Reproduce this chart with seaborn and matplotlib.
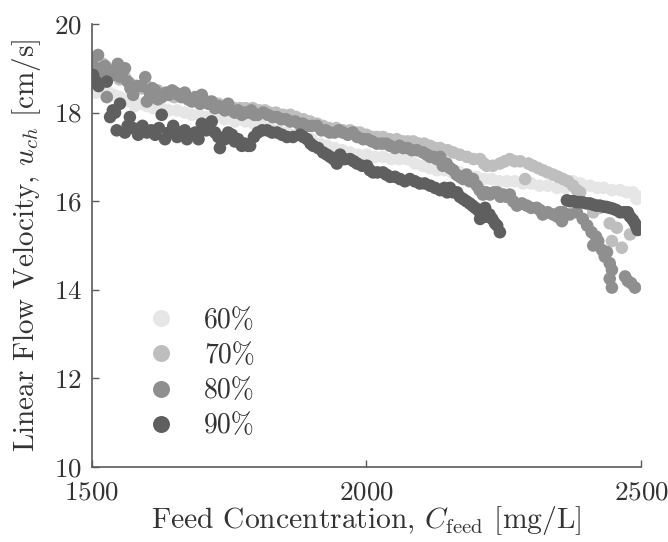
import pandas as pd
import matplotlib
matplotlib.use('Agg')
import matplotlib.pyplot as plt
import seaborn as sns

# data (feed concentration [mg/L], flow velocity [cm/s])
x60 = [1503, 1507, 1512, 1520, 1530, 1540, 1550, 1560, 1570, 1578, 1590, 1600, 1612, 1627, 1640,
       1655, 1669, 1682, 1695, 1710, 1725, 1742, 1760, 1779, 1795, 1810, 1825, 1840, 1855, 1870,
       1885, 1900, 1915, 1928, 1942, 1956, 1970, 1985, 2001, 2015, 2030, 2045, 2060, 2074, 2088,
       2103, 2115, 2128, 2142, 2156, 2170, 2185, 2200, 2214, 2228, 2242, 2256, 2270, 2285, 2300,
       2315, 2330, 2347, 2362, 2376, 2390, 2407, 2420, 2432, 2447, 2462, 2474, 2485, 2492, 2497]
y60 = [18.55, 18.45, 18.5, 18.6, 18.45, 18.4, 18.35, 18.3, 18.25, 18.15, 18.2, 18.15, 18.1, 18.1, 18.05,
       18.05, 18.0, 17.95, 17.95, 17.9, 17.9, 17.85, 17.8, 17.8, 17.75, 17.7, 17.65, 17.6, 17.55, 17.5,
       17.45, 17.4, 17.3, 17.25, 17.2, 17.15, 17.1, 17.05, 17.05, 17.0, 17.0, 16.95, 16.95, 16.95, 16.85,
       16.8, 16.75, 16.7, 16.7, 16.65, 16.65, 16.6, 16.55, 16.5, 16.5, 16.45, 16.45, 16.45, 16.4, 16.4,
       16.35, 16.35, 16.3, 16.3, 16.45, 16.4, 16.35, 16.3, 16.3, 16.25, 16.25, 16.2, 16.2, 16.05, 16.1]

x70 = [1502, 1507, 1513, 1520, 1530, 1540, 1550, 1560, 1570, 1580, 1590, 1600, 1610, 1620, 1630,
       1640, 1650, 1660, 1670, 1680, 1690, 1700, 1710, 1720, 1730, 1740, 1750, 1760, 1770, 1780,
       1793, 1805, 1815, 1824, 1835, 1848, 1861, 1872, 1885, 1897, 1910, 1921, 1932, 1945, 1957,
       1970, 1980, 1988, 2000, 2010, 2019, 2030, 2042, 2055, 2066, 2075, 2085, 2095, 2105, 2116,
       2125, 2134, 2139, 2148, 2158, 2170, 2183, 2195, 2207, 2214, 2219, 2230, 2243, 2252, 2261,
       2270, 2280, 2289, 2295, 2303, 2312, 2321, 2330, 2340, 2349, 2358, 2367, 2376, 2383, 2389,
       2413, 2425, 2443, 2447, 2456, 2465, 2480]
y70 = [19.2, 19.05, 18.95, 19.1, 18.85, 18.9, 18.75, 18.8, 18.65, 18.6, 18.55, 18.6, 18.45, 18.5, 18.4,
       18.45, 18.35, 18.4, 18.35, 18.3, 18.3, 18.25, 18.25, 18.2, 18.2, 18.15, 18.15, 18.1, 18.1, 18.1,
       18.1, 18.05, 18.05, 18.0, 18.0, 17.95, 17.95, 17.9, 17.85, 17.8, 17.75, 17.7, 17.65, 17.65, 17.6,
       17.6, 17.55, 17.55, 17.5, 17.45, 17.45, 17.45, 17.4, 17.4, 17.35, 17.35, 17.35, 17.3, 17.3, 17.25,
       17.2, 17.2, 17.15, 17.15, 17.1, 17.05, 17.0, 16.95, 16.95, 16.85, 16.8, 16.8, 16.85, 16.9, 16.95,
       16.9, 16.9, 16.5, 16.85, 16.8, 16.75, 16.7, 16.65, 16.6, 16.55, 16.5, 16.45, 16.35, 16.25, 16.2,
       15.75, 15.85, 15.5, 15.1, 15.4, 14.95, 15.25]

x80 = [1500, 1505, 1511, 1516, 1520, 1524, 1527, 1532, 1538, 1543, 1547, 1552, 1555, 1560, 1565,
       1570, 1575, 1582, 1590, 1597, 1600, 1605, 1610, 1615, 1620, 1627, 1635, 1640, 1646, 1652,
       1657, 1663, 1669, 1675, 1682, 1688, 1697, 1700, 1706, 1712, 1718, 1724, 1730, 1737, 1742,
       1748, 1755, 1760, 1766, 1773, 1778, 1784, 1790, 1796, 1802, 1812, 1820, 1829, 1837, 1845,
       1853, 1861, 1870, 1877, 1884, 1892, 1900, 1910, 1918, 1926, 1933, 1942, 1950, 1957, 1966,
       1975, 1983, 1994, 2002, 2010, 2019, 2028, 2036, 2043, 2052, 2060, 2067, 2075, 2083, 2092,
       2103, 2110, 2116, 2122, 2128, 2134, 2139, 2146, 2152, 2158, 2164, 2170, 2176, 2182, 2188,
       2194, 2201, 2206, 2212, 2218, 2225, 2232, 2238, 2244, 2249, 2255, 2261, 2267, 2274, 2283,
       2292, 2300, 2310, 2316, 2321, 2330, 2340, 2348, 2352, 2356, 2358, 2370, 2383, 2394, 2402,
       2410, 2413, 2418, 2422, 2429, 2434, 2438, 2443, 2447, 2443, 2447, 2471, 2476, 2482, 2489]
y80 = [19.1, 18.95, 19.3, 19.0, 18.9, 19.05, 18.35, 18.95, 18.85, 18.95, 19.1, 18.8, 18.9, 19.0, 18.7,
       18.55, 18.4, 18.6, 18.6, 18.8, 18.25, 18.45, 18.55, 18.5, 18.3, 18.35, 18.45, 18.4, 18.5, 18.45,
       18.4, 18.35, 18.45, 18.3, 18.25, 18.35, 18.2, 18.4, 18.25, 18.2, 18.25, 18.1, 18.15, 18.1, 18.05,
       18.2, 18.05, 18.0, 18.05, 17.95, 18.0, 18.0, 18.05, 17.95, 17.95, 18.0, 17.95, 17.9, 17.9, 17.85,
       17.85, 17.8, 17.8, 17.75, 17.75, 17.7, 17.7, 17.7, 17.6, 17.6, 17.55, 17.55, 17.6, 17.55, 17.5,
       17.55, 17.45, 17.4, 17.4, 17.35, 17.3, 17.3, 17.3, 17.25, 17.2, 17.25, 17.2, 17.2, 17.15, 17.15,
       17.1, 17.05, 17.0, 17.0, 16.95, 17.0, 16.8, 16.85, 16.75, 16.7, 16.6, 16.55, 16.5, 16.6, 16.45,
       16.5, 16.35, 16.25, 16.15, 16.2, 16.15, 16.2, 16.2, 16.1, 16.15, 16.1, 16.15, 16.0, 15.9, 15.95,
       15.9, 15.85, 15.85, 15.8, 15.7, 15.75, 15.7, 15.65, 15.75, 15.55, 15.75, 15.7, 15.75, 15.6, 15.45,
       15.3, 15.0, 15.2, 15.1, 14.9, 14.75, 14.85, 14.6, 14.45, 14.25, 14.05, 14.3, 14.2, 14.15, 14.05]

x90 = [1502, 1507, 1512, 1527, 1533, 1538, 1542, 1545, 1551, 1560, 1565, 1569, 1575, 1582, 1584,
       1592, 1600, 1608, 1615, 1622, 1627, 1633, 1640, 1648, 1655, 1662, 1669, 1673, 1680, 1688,
       1694, 1700, 1708, 1718, 1724, 1730, 1733, 1742, 1748, 1755, 1760, 1766, 1773, 1778, 1784,
       1788, 1795, 1802, 1810, 1819, 1828, 1837, 1846, 1855, 1866, 1879, 1885, 1892, 1898, 1903,
       1912, 1921, 1928, 1934, 1940, 1946, 1952, 1960, 1970, 1977, 1983, 1992, 2001, 2006, 2012,
       2020, 2030, 2036, 2043, 2052, 2061, 2070, 2079, 2088, 2097, 2106, 2116, 2125, 2134, 2142,
       2147, 2152, 2158, 2165, 2170, 2176, 2182, 2188, 2193, 2198, 2203, 2207, 2207, 2212, 2216,
       2219, 2224, 2229, 2234, 2238, 2243,
       2365, 2371, 2377, 2383, 2389, 2395, 2401, 2407, 2413, 2419, 2425, 2431, 2437, 2443, 2449,
       2455, 2462, 2469, 2476, 2480, 2485, 2489, 2492, 2494, 2497]
y90 = [18.85, 18.7, 18.6, 18.7, 17.9, 18.05, 18.0, 17.6, 18.2, 17.55, 17.7, 17.9, 17.65, 17.6, 17.5,
       17.7, 17.55, 17.6, 17.5, 17.65, 17.95, 17.4, 17.55, 17.7, 17.45, 17.55, 17.6, 17.4, 17.5, 17.55,
       17.4, 17.75, 17.6, 17.8, 17.55, 17.45, 17.2, 17.4, 17.55, 17.5, 17.35, 17.4, 17.25, 17.3, 17.25,
       17.25, 17.45, 17.55, 17.6, 17.6, 17.55, 17.55, 17.5, 17.45, 17.45, 17.5, 17.45, 17.4, 17.3, 17.25,
       17.2, 17.1, 17.05, 17.0, 16.95, 16.85, 17.05, 16.95, 16.95, 16.9, 16.85, 16.8, 16.8, 16.7, 16.65,
       16.65, 16.65, 16.6, 16.55, 16.55, 16.5, 16.45, 16.5, 16.45, 16.4, 16.4, 16.35, 16.3, 16.25, 16.3,
       16.2, 16.3, 16.2, 16.2, 16.1, 16.05, 16.0, 15.95, 15.9, 15.85, 15.8, 15.75, 15.6, 15.8, 15.85,
       15.65, 15.7, 15.6, 15.5, 15.45, 15.3,
       16.02, 16.0, 16.0, 15.98, 15.98, 15.97, 15.95, 15.95, 15.92, 15.9, 15.9, 15.88, 15.87, 15.85, 15.83,
       15.8, 15.75, 15.75, 15.75, 15.65, 15.58, 15.5, 15.42, 15.35, 15.4]

levels = ['60%', '70%', '80%', '90%']
colors = ['#e6e6e7', '#bebebe', '#8f8f8f', '#5f5f5f']

# one long table, 90% last so it sits on top
df = pd.concat([
    pd.DataFrame({'feed': x60, 'u': y60, 'level': '60%'}),
    pd.DataFrame({'feed': x70, 'u': y70, 'level': '70%'}),
    pd.DataFrame({'feed': x80, 'u': y80, 'level': '80%'}),
    pd.DataFrame({'feed': x90, 'u': y90, 'level': '90%'}),
], ignore_index=True)

sns.set_theme(style='white')
plt.rcParams['font.family'] = ['cmr10', 'DejaVu Serif']
plt.rcParams['mathtext.fontset'] = 'cm'
plt.rcParams['axes.formatter.use_mathtext'] = True
plt.rcParams['axes.unicode_minus'] = False

fig = plt.figure(figsize=(6.68, 5.42), dpi=100)
ax = fig.add_axes([0.1377, 0.1384, 0.8219, 0.8173])

sns.scatterplot(data=df, x='feed', y='u', hue='level', hue_order=levels,
                palette=dict(zip(levels, colors)), s=82, linewidth=0, alpha=1,
                ax=ax)

ax.set_xlim(1500, 2500)
ax.set_ylim(10, 20)
ax.set_xticks([1500, 2000, 2500])
ax.set_yticks([10, 12, 14, 16, 18, 20])

tick_fs = 19.5
ax.set_xlabel(r'Feed Concentration, $C_{\mathrm{feed}}$ [mg/L]', fontsize=21.3, color='#333333')
ax.set_ylabel(r'Linear Flow Velocity, $u_{ch}$ [cm/s]', fontsize=21, color='#333333')
ax.xaxis.set_label_coords(0.5, -0.084)
ax.yaxis.set_label_coords(-0.089, 0.5)
ax.tick_params(direction='in', length=5, width=1, colors='#5a5a5a', labelcolor='#333333',
               labelsize=tick_fs, left=True, bottom=True)
ax.tick_params(axis='x', pad=10)
ax.tick_params(axis='y', pad=7)

sns.despine(ax=ax)
for sp in ['left', 'bottom']:
    ax.spines[sp].set_color('#5a5a5a')
    ax.spines[sp].set_linewidth(1.2)

leg = ax.legend(loc='upper left', bbox_to_anchor=(0.055, 0.385), frameon=False,
                fontsize=20, handletextpad=0.55, labelspacing=0.32, borderaxespad=0,
                markerscale=1.35)
for t in leg.get_texts():
    t.set_color('#333333')

fig.savefig('out.png', dpi=100)
